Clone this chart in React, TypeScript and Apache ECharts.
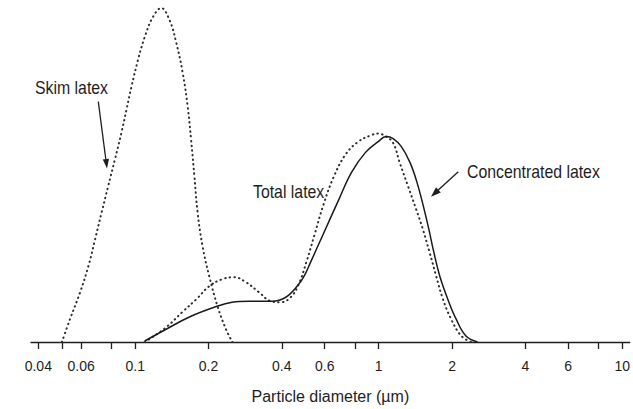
import React, { useEffect, useRef } from "react";
import * as echarts from "echarts";

// Particle diameter (µm) and relative frequency (arbitrary units, 0–100)
const skimDiameter = [0.05, 0.054, 0.0594, 0.0642, 0.0684, 0.0728, 0.0774, 0.0825, 0.0878, 0.0921, 0.0965, 0.1027, 0.1094, 0.1182, 0.1279, 0.1383, 0.1474, 0.1567, 0.1643, 0.1696, 0.175, 0.1804, 0.189, 0.2014, 0.2178, 0.2356, 0.2507];
const skimValue = [0, 6.9, 14.9, 22.7, 30.7, 38.8, 46.6, 54.6, 62.7, 69.6, 76.4, 84.5, 91.3, 97.3, 100, 96.4, 89.6, 80.6, 70.4, 60.6, 49.6, 38.8, 28.7, 19.7, 10.7, 3.9, 0];

const totalDiameter = [0.1094, 0.1146, 0.1345, 0.1563, 0.1782, 0.2014, 0.2276, 0.2547, 0.2851, 0.3223, 0.3607, 0.3963, 0.4352, 0.4692, 0.5059, 0.5453, 0.5935, 0.6521, 0.7302, 0.8249, 0.9232, 0.9954, 1.073, 1.146, 1.221, 1.32, 1.427, 1.519, 1.618, 1.721, 1.834, 1.982, 2.178, 2.392];
const totalValue = [0, 0.9, 4.5, 9.0, 12.8, 16.7, 18.8, 19.4, 17.9, 14.9, 12.2, 11.9, 13.4, 17.3, 24.2, 32.2, 41.2, 49.3, 56.1, 60.0, 61.8, 62.4, 61.5, 59.6, 53.6, 46.6, 39.6, 33.7, 26.8, 19.8, 12.9, 6.9, 1.9, 0];

const concDiameter = [0.1094, 0.1345, 0.1669, 0.2111, 0.25, 0.2933, 0.3314, 0.3641, 0.4153, 0.4692, 0.4965, 0.5252, 0.5935, 0.6834, 0.7722, 0.8808, 0.9954, 1.073, 1.146, 1.239, 1.345, 1.436, 1.526, 1.607, 1.684, 1.782, 1.922, 2.078, 2.282, 2.548];
const concValue = [0.3, 3.9, 7.5, 10.4, 11.9, 12.2, 12.2, 12.2, 13.4, 17.3, 20.0, 23.9, 32.5, 42.4, 50.7, 56.7, 60.0, 61.5, 60.9, 58.5, 53.7, 47.8, 40.6, 33.7, 26.9, 19.7, 12.8, 6.9, 1.8, 0];

const tickValues = [0.04, 0.05, 0.06, 0.08, 0.1, 0.2, 0.4, 0.6, 0.8, 1, 2, 4, 6, 8, 10];
const tickLabels = ["0.04", "0.06", "0.1", "0.2", "0.4", "0.6", "1", "2", "4", "6", "10"];

const FONT = "'Liberation Sans', Arial, sans-serif";
const INK = "#1e1e1e";

const toPairs = (d: number[], v: number[]) => d.map((x, i) => [Math.log10(x), v[i]]);

export default function App() {
  const ref = useRef<HTMLDivElement>(null);
  useEffect(() => {
    if (!ref.current) return;
    const chart = echarts.init(ref.current, null, { renderer: "svg" });
    const dotted = { type: [0.5, 4.2] as any, width: 2, color: "#2e2e2e", cap: "round" as const };
    const note = (text: string, x: number, y: number) => ({
      type: "text",
      x,
      y,
      scaleX: 0.88,
      style: { text, font: `18px ${FONT}`, fill: INK, verticalAlign: "middle" },
    });
    chart.setOption({
      animation: false,
      backgroundColor: "#fff",
      grid: { left: 31, right: 0, top: 8, bottom: 66 },
      xAxis: {
        type: "value",
        min: -1.428,
        max: 1.031,
        name: "Particle diameter (\u00b5m)",
        nameLocation: "middle",
        nameGap: 46,
        nameTextStyle: { fontFamily: FONT, fontSize: 16, color: INK },
        axisLine: { show: true, lineStyle: { color: INK, width: 1.3 } },
        axisTick: {
          show: true,
          customValues: tickValues.map((t) => Math.log10(t)),
          length: 7,
          lineStyle: { color: INK, width: 1.3 },
        },
        axisLabel: {
          customValues: tickLabels.map((s) => Math.log10(parseFloat(s))),
          formatter: (v: number) =>
            tickLabels.find((s) => Math.abs(Math.log10(parseFloat(s)) - v) < 1e-6) ?? "",
          fontFamily: FONT,
          fontSize: 14,
          color: INK,
          margin: 17,
        },
        splitLine: { show: false },
      },
      yAxis: { type: "value", min: 0, max: 100, show: false },
      series: [
        {
          name: "Skim latex",
          type: "line",
          data: toPairs(skimDiameter, skimValue),
          smooth: 0.4,
          showSymbol: false,
          lineStyle: dotted,
        },
        {
          name: "Total latex",
          type: "line",
          data: toPairs(totalDiameter, totalValue),
          smooth: 0.4,
          showSymbol: false,
          lineStyle: dotted,
        },
        {
          name: "Concentrated latex",
          type: "line",
          data: toPairs(concDiameter, concValue),
          smooth: 0.4,
          showSymbol: false,
          lineStyle: { type: "solid", width: 1.5, color: "#1a1a1a" },
        },
      ],
      graphic: [
        note("Skim latex", 35, 88),
        { type: "line", shape: { x1: 98.3, y1: 101.7, x2: 105.9, y2: 160 }, style: { stroke: INK, lineWidth: 1.3 } },
        { type: "polygon", shape: { points: [[107, 168.5], [109, 158.7], [102.8, 159.5]] }, style: { fill: INK } },
        note("Total latex", 253, 192),
        note("Concentrated latex", 467, 172),
        { type: "line", shape: { x1: 458.3, y1: 171.7, x2: 438, y2: 190.3 }, style: { stroke: INK, lineWidth: 1.3 } },
        { type: "polygon", shape: { points: [[431, 196.7], [440.8, 192.5], [436.0, 187.3]] }, style: { fill: INK } },
      ],
    });
    return () => chart.dispose();
  }, []);
  return (
    <div
      ref={ref}
      style={{ position: "fixed", left: 0, top: 0, width: 633, height: 409, background: "#fff" }}
    />
  );
}
